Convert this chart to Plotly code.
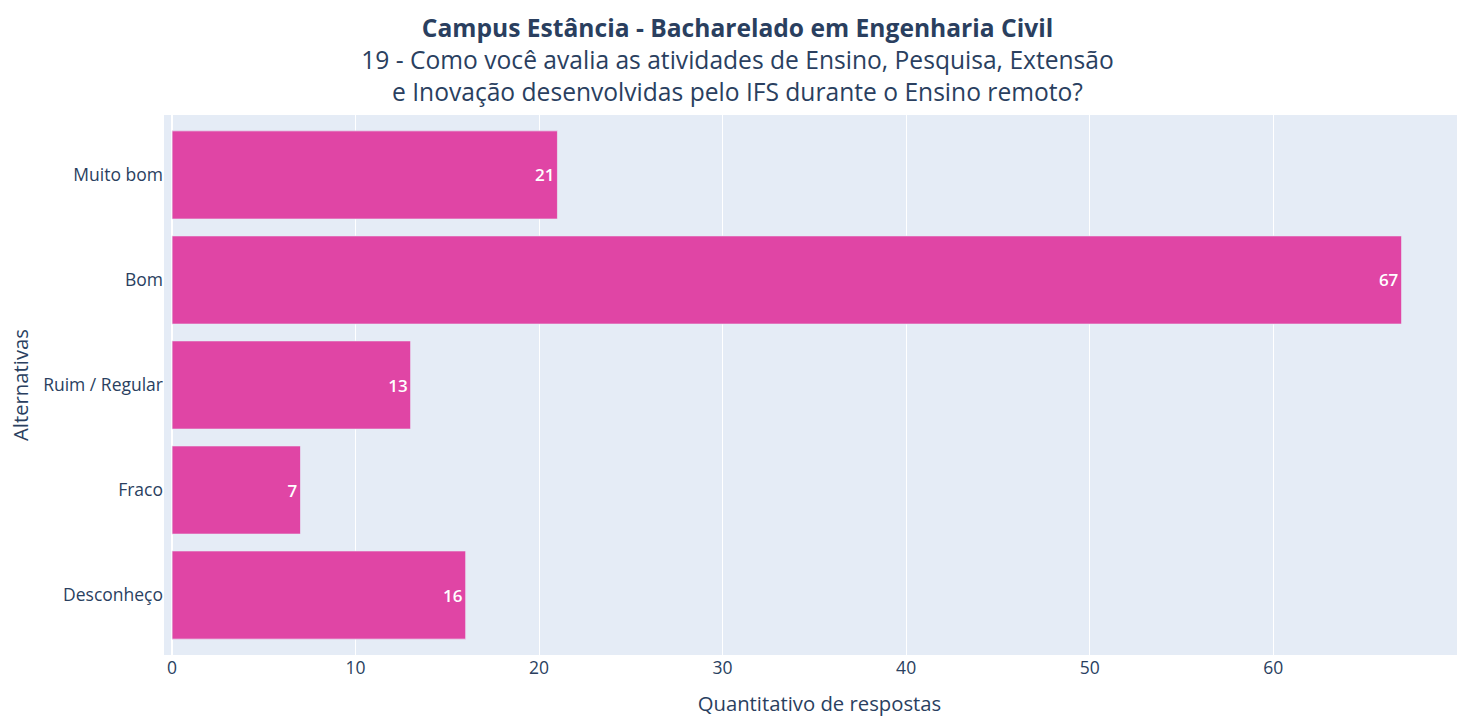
import plotly.graph_objects as go

categorias = ["Muito bom", "Bom", "Ruim / Regular", "Fraco", "Desconheço"]
respostas = [21, 67, 13, 7, 16]
x_ticks = [0, 10, 20, 30, 40, 50, 60]

titulo = ("<b>Campus Estância - Bacharelado em Engenharia Civil</b><br>"
          "19 - Como você avalia as atividades de Ensino, Pesquisa, Extensão<br>"
          "e Inovação desenvolvidas pelo IFS durante o Ensino remoto?")

fig = go.Figure(go.Bar(
    x=respostas,
    y=categorias,
    orientation="h",
    text=respostas,
    textposition="inside",
    insidetextanchor="end",
    textfont=dict(color="white", size=17, family="Open Sans", weight=600),
    marker=dict(color="#E045A5", line=dict(color="#E5ECF6", width=0.7)),
))

fig.update_layout(
    template="plotly",
    width=1475,
    height=717,
    margin=dict(l=164, r=0, t=115, b=62),
    font=dict(family="Open Sans", color="#2a3f5f"),
    title=dict(
        text=titulo,
        x=0.5,
        xref="container",
        xanchor="center",
        y=0.948,
        yanchor="top",
        font=dict(size=24.6, color="#2a3f5f"),
    ),
    bargap=0.16,
    xaxis=dict(
        title=dict(text="Quantitativo de respostas", font=dict(size=20.3), standoff=19),
        range=[-0.44, 71.0],
        tickvals=x_ticks,
        tickfont=dict(size=17.5),
        zeroline=True,
    ),
    yaxis=dict(
        title=dict(text="Alternativas", font=dict(size=20.3), standoff=9),
        categoryorder="array",
        categoryarray=categorias[::-1],
        range=[-0.571, 4.571],
        tickfont=dict(size=17.5),
    ),
)

fig.write_html(
    "out.html",
    config={"displayModeBar": False},
    post_script="document.body.style.margin='0';document.body.style.overflow='hidden';",
)
